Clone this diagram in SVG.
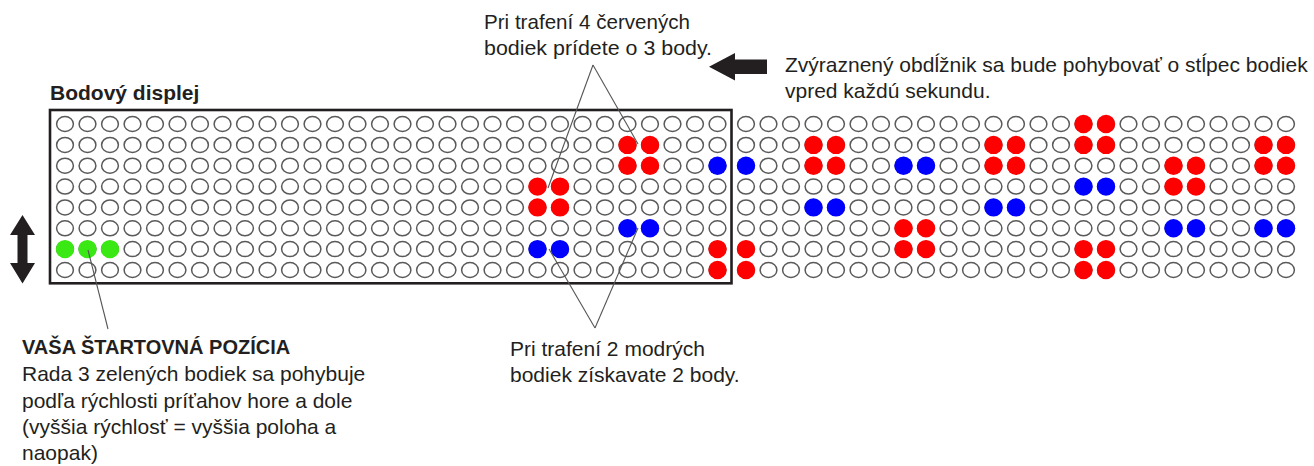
<svg xmlns="http://www.w3.org/2000/svg" xmlns:xlink="http://www.w3.org/1999/xlink" width="1314" height="466" viewBox="0 0 1314 466">
<style>
.off{fill:#fff;stroke:#5a5a5a;stroke-width:1.5}
.r{fill:#ff0000}
.b{fill:#0000ff}
.g{fill:#3ae814}
.t{font-family:"Liberation Sans",Arial,sans-serif;font-size:21px;fill:#231f20}
.tb{font-family:"Liberation Sans",Arial,sans-serif;font-size:20px;font-weight:bold;fill:#231f20}
.ln{stroke:#555;stroke-width:1.1;fill:none}
.ar{fill:#231f20}
</style>
<defs>
<ellipse id="e" cx="0" cy="0" rx="8.4" ry="7.5" class="off"/>
<g id="row">
<use href="#e" x="65"/><use href="#e" x="87.5"/><use href="#e" x="110"/><use href="#e" x="132.5"/><use href="#e" x="155"/><use href="#e" x="177.5"/><use href="#e" x="200"/><use href="#e" x="222.5"/><use href="#e" x="245"/><use href="#e" x="267.5"/><use href="#e" x="290"/><use href="#e" x="312.5"/><use href="#e" x="335"/><use href="#e" x="357.5"/><use href="#e" x="380"/><use href="#e" x="402.5"/><use href="#e" x="425"/><use href="#e" x="447.5"/><use href="#e" x="470"/><use href="#e" x="492.5"/><use href="#e" x="515"/><use href="#e" x="537.5"/><use href="#e" x="560"/><use href="#e" x="582.5"/><use href="#e" x="605"/><use href="#e" x="627.5"/><use href="#e" x="650"/><use href="#e" x="672.5"/><use href="#e" x="695"/><use href="#e" x="717.5"/>
<use href="#e" x="746"/><use href="#e" x="768.5"/><use href="#e" x="791"/><use href="#e" x="813.5"/><use href="#e" x="836"/><use href="#e" x="858.5"/><use href="#e" x="881"/><use href="#e" x="903.5"/><use href="#e" x="926"/><use href="#e" x="948.5"/><use href="#e" x="971"/><use href="#e" x="993.5"/><use href="#e" x="1016"/><use href="#e" x="1038.5"/><use href="#e" x="1061"/><use href="#e" x="1083.5"/><use href="#e" x="1106"/><use href="#e" x="1128.5"/><use href="#e" x="1151"/><use href="#e" x="1173.5"/><use href="#e" x="1196"/><use href="#e" x="1218.5"/><use href="#e" x="1241"/><use href="#e" x="1263.5"/><use href="#e" x="1286"/>
</g>
</defs>
<rect width="1314" height="466" fill="#fff"/>

<g id="grid">
<use href="#row" y="124"/>
<use href="#row" y="144.9"/>
<use href="#row" y="165.7"/>
<use href="#row" y="186.6"/>
<use href="#row" y="207.4"/>
<use href="#row" y="228.3"/>
<use href="#row" y="249.1"/>
<use href="#row" y="270"/>
</g>

<g id="dots">
<circle class="g" cx="65" cy="249.1" r="9.2"/><circle class="g" cx="87.5" cy="249.1" r="9.2"/><circle class="g" cx="110" cy="249.1" r="9.2"/>
<circle class="r" cx="627.5" cy="144.9" r="9.2"/><circle class="r" cx="650" cy="144.9" r="9.2"/><circle class="r" cx="627.5" cy="165.7" r="9.2"/><circle class="r" cx="650" cy="165.7" r="9.2"/>
<circle class="b" cx="717.5" cy="165.7" r="9.2"/><circle class="b" cx="746" cy="165.7" r="9.2"/>
<circle class="r" cx="537.5" cy="186.6" r="9.2"/><circle class="r" cx="560" cy="186.6" r="9.2"/><circle class="r" cx="537.5" cy="207.4" r="9.2"/><circle class="r" cx="560" cy="207.4" r="9.2"/>
<circle class="b" cx="627.5" cy="228.3" r="9.2"/><circle class="b" cx="650" cy="228.3" r="9.2"/>
<circle class="b" cx="537.5" cy="249.1" r="9.2"/><circle class="b" cx="560" cy="249.1" r="9.2"/>
<circle class="r" cx="717.5" cy="249.1" r="9.2"/><circle class="r" cx="717.5" cy="270" r="9.2"/><circle class="r" cx="746" cy="249.1" r="9.2"/><circle class="r" cx="746" cy="270" r="9.2"/>
<circle class="r" cx="813.5" cy="144.9" r="9.2"/><circle class="r" cx="836" cy="144.9" r="9.2"/><circle class="r" cx="813.5" cy="165.7" r="9.2"/><circle class="r" cx="836" cy="165.7" r="9.2"/>
<circle class="b" cx="903.5" cy="165.7" r="9.2"/><circle class="b" cx="926" cy="165.7" r="9.2"/>
<circle class="b" cx="813.5" cy="207.4" r="9.2"/><circle class="b" cx="836" cy="207.4" r="9.2"/>
<circle class="r" cx="903.5" cy="228.3" r="9.2"/><circle class="r" cx="926" cy="228.3" r="9.2"/><circle class="r" cx="903.5" cy="249.1" r="9.2"/><circle class="r" cx="926" cy="249.1" r="9.2"/>
<circle class="r" cx="993.5" cy="144.9" r="9.2"/><circle class="r" cx="1016" cy="144.9" r="9.2"/><circle class="r" cx="993.5" cy="165.7" r="9.2"/><circle class="r" cx="1016" cy="165.7" r="9.2"/>
<circle class="b" cx="993.5" cy="207.4" r="9.2"/><circle class="b" cx="1016" cy="207.4" r="9.2"/>
<circle class="r" cx="1083.5" cy="124" r="9.2"/><circle class="r" cx="1106" cy="124" r="9.2"/><circle class="r" cx="1083.5" cy="144.9" r="9.2"/><circle class="r" cx="1106" cy="144.9" r="9.2"/>
<circle class="b" cx="1083.5" cy="186.6" r="9.2"/><circle class="b" cx="1106" cy="186.6" r="9.2"/>
<circle class="r" cx="1083.5" cy="249.1" r="9.2"/><circle class="r" cx="1106" cy="249.1" r="9.2"/><circle class="r" cx="1083.5" cy="270" r="9.2"/><circle class="r" cx="1106" cy="270" r="9.2"/>
<circle class="r" cx="1173.5" cy="165.7" r="9.2"/><circle class="r" cx="1196" cy="165.7" r="9.2"/><circle class="r" cx="1173.5" cy="186.6" r="9.2"/><circle class="r" cx="1196" cy="186.6" r="9.2"/>
<circle class="b" cx="1173.5" cy="228.3" r="9.2"/><circle class="b" cx="1196" cy="228.3" r="9.2"/>
<circle class="r" cx="1263.5" cy="144.9" r="9.2"/><circle class="r" cx="1286" cy="144.9" r="9.2"/><circle class="r" cx="1263.5" cy="165.7" r="9.2"/><circle class="r" cx="1286" cy="165.7" r="9.2"/>
<circle class="b" cx="1263.5" cy="228.3" r="9.2"/><circle class="b" cx="1286" cy="228.3" r="9.2"/>
</g>

<g id="display">
<rect x="50" y="110" width="681.5" height="173.3" fill="none" stroke="#231f20" stroke-width="2.6"/>
<text class="tb" x="50" y="100" style="font-size:21px">Bodový displej</text>
</g>

<g id="connectors">
<path class="ln" d="M593,65 L548,188"/>
<path class="ln" d="M593,65 L638,144"/>
<path class="ln" d="M595,328 L549,249"/>
<path class="ln" d="M595,328 L638,228"/>
<path class="ln" d="M88,250 L108,329"/>
</g>

<g id="move-arrow">
<polygon class="ar" points="709,66.7 735,53 735,59.5 767,59.5 767,74 735,74 735,80.5"/>
</g>
<g id="updown-arrow">
<polygon class="ar" points="22.5,215 35,235 27.5,235 27.5,263 35,263 22.5,283.5 10,263 17.5,263 17.5,235 10,235"/>
</g>

<g id="label-red">
<text class="t" x="484" y="29.3" textLength="206" lengthAdjust="spacingAndGlyphs">Pri trafení 4 červených</text>
<text class="t" x="484" y="54.5" textLength="228" lengthAdjust="spacingAndGlyphs">bodiek prídete o 3 body.</text>
</g>
<g id="label-move">
<text class="t" x="785" y="72">Zvýraznený obdĺžnik sa bude pohybovať o stĺpec bodiek</text>
<text class="t" x="785" y="98">vpred každú sekundu.</text>
</g>
<g id="label-blue">
<text class="t" x="510" y="356">Pri trafení 2 modrých</text>
<text class="t" x="510" y="382">bodiek získavate 2 body.</text>
</g>
<g id="label-start">
<text class="tb" x="22" y="354">VAŠA ŠTARTOVNÁ POZÍCIA</text>
<text class="t" x="22" y="381">Rada 3 zelených bodiek sa pohybuje</text>
<text class="t" x="22" y="407.5">podľa rýchlosti príťahov hore a dole</text>
<text class="t" x="22" y="434">(vyššia rýchlosť = vyššia poloha a</text>
<text class="t" x="22" y="460">naopak)</text>
</g>
</svg>
